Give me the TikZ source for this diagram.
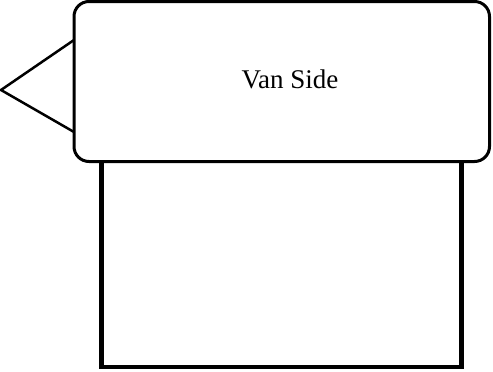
\documentclass[tikz,border=0pt]{standalone}
\usepackage{fontspec}
\setmainfont{Liberation Serif}
\usetikzlibrary{calc,positioning}
\tikzset{
  van schemes/.style = {
    x=1pt, y=-1pt,
    side line/.style = {line width=3pt, rounded corners=15pt},
    box line/.style  = {line width=4.4pt},
    nose line/.style = {line width=2.5pt, line join=miter},
  }
}
\begin{document}
\begin{tikzpicture}[van schemes]
\useasboundingbox (0,0) rectangle (493,372);
%---------------------------------------------
\coordinate (box_nw) at (101.5,160);
\coordinate (box_se) at (461.5,367);
\draw[box line] (box_nw) rectangle (box_se);
% nose
\coordinate (tip)     at (1,90);
\coordinate (nose_up) at (74,40);
\coordinate (nose_dw) at (74,132);
\draw[nose line] (nose_up) -- (tip) -- (nose_dw);
% side
\coordinate (side_nw) at (74,1.5);
\coordinate (side_se) at (489.5,161.5);
\draw[side line, fill=white] (side_nw) rectangle (side_se);
\node[anchor=base, font=\fontsize{27}{31}\selectfont] (label) at (290,88) {Van Side};
\end{tikzpicture}
\end{document}
